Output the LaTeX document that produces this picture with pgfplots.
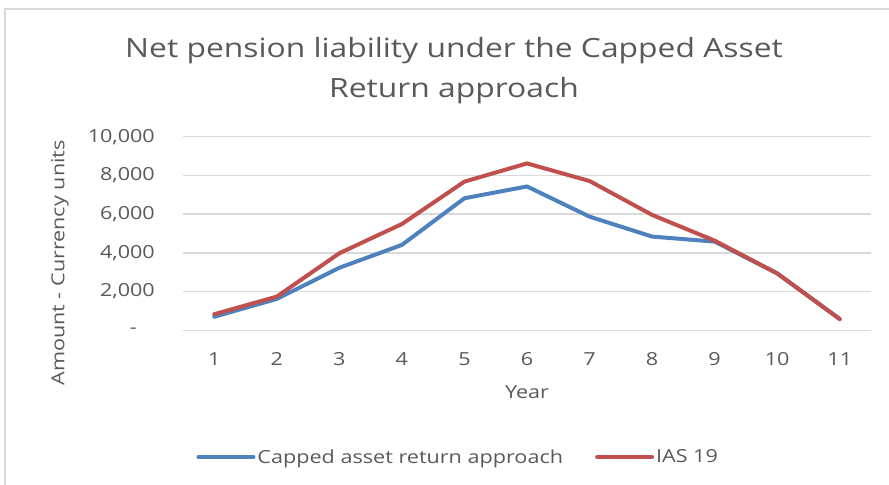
\documentclass[border=0pt]{standalone}
\usepackage{fontspec}
\setmainfont[FakeStretch=1.2]{Open Sans}
\usepackage{pgfplots}
\pgfplotsset{compat=1.18}
\definecolor{txt}{HTML}{595959}
\definecolor{grd}{HTML}{D9D9D9}
\definecolor{sblue}{HTML}{4F81BD}
\definecolor{sred}{HTML}{C0504D}

\begin{document}
\begin{tikzpicture}[x=1bp,y=1bp]
\useasboundingbox (0,0) rectangle (889,485);
% chart area border (cut off at right and bottom)
\draw[grd, line width=2bp] (4.5,0) -- (4.5,476) -- (889,476);
\node[txt, align=center, font=\fontsize{26.5bp}{40bp}\selectfont] at (454,414)
  {Net pension liability under the Capped Asset\\Return approach};
\node[txt, font=\fontsize{18bp}{20bp}\selectfont] at (527,93) {Year};
\node[txt, rotate=90, font=\fontsize{18bp}{20bp}\selectfont] at (60,222) {Amount - Currency units};
\begin{axis}[
  at={(183bp,154.7bp)}, anchor=south west,
  scale only axis, width=688bp, height=193.6bp,
  xmin=0.5, xmax=11.5, ymin=0, ymax=10000,
  axis lines*=left,
  x axis line style={grd, line width=1.5bp},
  y axis line style={draw=none},
  major tick length=0pt,
  xtick={1,...,11},
  ytick={0,2000,4000,6000,8000,10000},
  scaled y ticks=false,
  yticklabels={{-\rule{18bp}{0pt}},{2,000},{4,000},{6,000},{8,000},{10,000}},
  ymajorgrids, grid style={grd, line width=1.5bp},
  /pgf/number format/assume math mode=true,
  ticklabel style={txt, font=\fontsize{18bp}{20bp}\selectfont, inner sep=0pt},
  yticklabel style={xshift=-28bp},
  xticklabel style={yshift=-22bp},
  legend columns=2,
  legend style={at={(0.400,-0.654)}, anchor=center, draw=none, fill=none,
    font=\fontsize{18bp}{20bp}\selectfont, text=txt,
    /tikz/every even column/.append style={column sep=30bp}},
  legend image code/.code={\draw[#1, line cap=round] (0bp,0bp) -- (55bp,0bp);},
]
\addplot[sblue, line width=4bp, line cap=round, line join=round] coordinates {
  (1,700) (2,1620) (3,3230) (4,4410) (5,6820) (6,7430)
  (7,5870) (8,4840) (9,4580) (10,2940) (11,580)};
\addlegendentry{Capped asset return approach}
\addplot[sred, line width=4bp, line cap=round, line join=round] coordinates {
  (1,830) (2,1740) (3,3980) (4,5490) (5,7680) (6,8620)
  (7,7710) (8,5960) (9,4630) (10,2940) (11,580)};
\addlegendentry{IAS 19}
\end{axis}
\end{tikzpicture}
\end{document}
